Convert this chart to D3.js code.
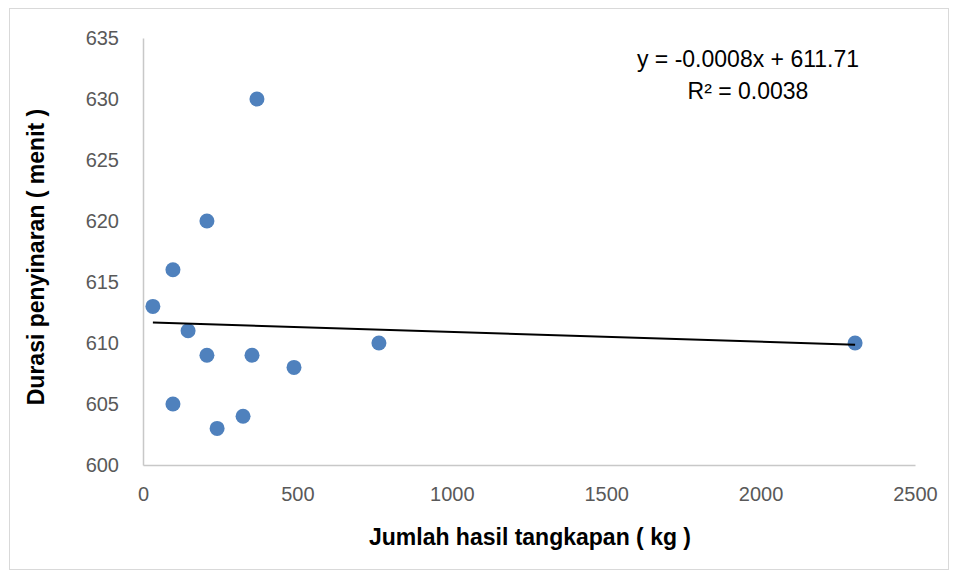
<!DOCTYPE html>
<html>
<head>
    <meta charset='utf-8'>
    <title>Scatter</title>
    <script src='https://cdn.jsdelivr.net/npm/d3@7'></script>
    <style>
        body { margin: 0; background: #fff; }
        text { font-family: 'Liberation Sans', 'Open Sans', sans-serif; }
    </style>
</head>
<body>
    <svg width='958' height='578'></svg>
    <script>
        // hasil tangkapan (kg) dan durasi penyinaran (menit)
        const catchKg = [32, 97, 207, 369, 146, 207, 353, 489, 764, 2306, 97, 240, 324]
        const durasi = [613, 616, 620, 630, 611, 609, 609, 608, 610, 610, 605, 603, 604]
        const xTicks = [0, 500, 1000, 1500, 2000, 2500]
        const yTicks = [600, 605, 610, 615, 620, 625, 630, 635]
        const slope = -0.0008
        const intercept = 611.71
        const eqText = 'y = -0.0008x + 611.71'
        const r2Text = 'R² = 0.0038'

        const svg = d3.select('svg')

        // bingkai luar
        svg.append('rect')
            .attr('x', 9.5).attr('y', 8.5)
            .attr('width', 939).attr('height', 561)
            .attr('fill', 'none').attr('stroke', '#d9d9d9')

        const x = d3.scaleLinear().domain([0, 2500]).range([143, 915])
        const y = d3.scaleLinear().domain([600, 635]).range([465, 38])

        const xAxis = svg.append('g')
            .attr('transform', `translate(0,${y(600)})`)
            .call(d3.axisBottom(x).tickValues(xTicks).tickFormat(d3.format('d')).tickSize(0).tickPadding(22))
        xAxis.select('.domain').attr('stroke', '#c8c8c8').attr('stroke-width', 1.5)
        xAxis.selectAll('text').attr('fill', '#595959').attr('font-size', 20)

        const yAxis = svg.append('g')
            .attr('transform', `translate(${x(0)},0)`)
            .call(d3.axisLeft(y).tickValues(yTicks).tickFormat(d3.format('d')).tickSize(0).tickPadding(24))
        yAxis.select('.domain').attr('stroke', '#c8c8c8').attr('stroke-width', 1.5)
        yAxis.selectAll('text').attr('fill', '#595959').attr('font-size', 20)

        // titik data
        svg.append('g')
            .selectAll('circle')
            .data(catchKg)
            .join('circle')
            .attr('cx', d => x(d))
            .attr('cy', (d, i) => y(durasi[i]))
            .attr('r', 7.5)
            .attr('fill', '#4f81bd')

        // garis tren linear
        const xMin = d3.min(catchKg), xMax = d3.max(catchKg)
        svg.append('line')
            .attr('x1', x(xMin)).attr('y1', y(slope * xMin + intercept))
            .attr('x2', x(xMax)).attr('y2', y(slope * xMax + intercept))
            .attr('stroke', '#000').attr('stroke-width', 2)

        svg.append('text')
            .attr('x', 748).attr('y', 67)
            .attr('text-anchor', 'middle')
            .attr('font-size', 23)
            .text(eqText)
        svg.append('text')
            .attr('x', 748).attr('y', 99)
            .attr('text-anchor', 'middle')
            .attr('font-size', 23)
            .text(r2Text)

        svg.append('text')
            .attr('x', 530).attr('y', 545)
            .attr('text-anchor', 'middle')
            .attr('font-size', 23).attr('font-weight', 'bold')
            .text('Jumlah hasil tangkapan ( kg )')

        svg.append('text')
            .attr('transform', 'translate(44,257) rotate(-90)')
            .attr('text-anchor', 'middle')
            .attr('font-size', 23).attr('font-weight', 'bold')
            .text('Durasi penyinaran ( menit )')
    </script>
</body>
</html>
